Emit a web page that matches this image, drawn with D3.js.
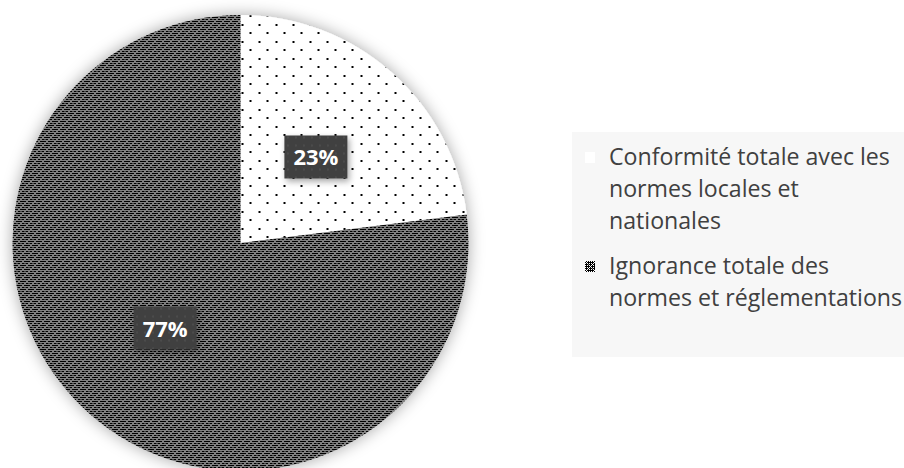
<!DOCTYPE html>
<html><head><meta charset="utf-8">
<script src="https://cdn.jsdelivr.net/npm/d3@7"></script>
<style>html,body{margin:0;padding:0;background:#fff;overflow:hidden}</style>
</head><body>
<svg id="chart" width="904" height="468"></svg>
<script>
const categories = ["Conformité totale avec les normes locales et nationales", "Ignorance totale des normes et réglementations"];
const values = [23, 77];
const valueLabels = ["23%", "77%"];
const legendLines = [["Conformité totale avec les", "normes locales et", "nationales"], ["Ignorance totale des", "normes et réglementations"]];

const svg = d3.select("#chart");
const defs = svg.append("defs");

// dotted pattern
const pDots = defs.append("pattern").attr("id", "dots").attr("patternUnits", "userSpaceOnUse")
  .attr("width", 17).attr("height", 17);
pDots.append("rect").attr("width", 17).attr("height", 17).attr("fill", "#fff");
pDots.append("rect").attr("x", 1).attr("y", 2).attr("width", 2).attr("height", 2).attr("fill", "#000").attr("shape-rendering", "crispEdges");
pDots.append("rect").attr("x", 9).attr("y", 10).attr("width", 2).attr("height", 2).attr("fill", "#000").attr("shape-rendering", "crispEdges");

// dark weave pattern: checker + black plus crosses on a diagonal lattice
const pDark = defs.append("pattern").attr("id", "dark").attr("patternUnits", "userSpaceOnUse")
  .attr("width", 8).attr("height", 8);
pDark.append("rect").attr("width", 8).attr("height", 8).attr("fill", "#000");
const inPlus = (x, y, cx0, cy0) => {
  const dx = ((x - cx0) % 8 + 8) % 8, dy = ((y - cy0) % 8 + 8) % 8;
  const ddx = dx > 4 ? dx - 8 : dx, ddy = dy > 4 ? dy - 8 : dy;
  return (ddx === 0 && Math.abs(ddy) <= 2) || (ddy === 0 && Math.abs(ddx) <= 2);
};
for (let y = 0; y < 8; y++) for (let x = 0; x < 8; x++) {
  if ((x + y) % 2 !== 0) continue;
  if (inPlus(x, y, 2, 2) || inPlus(x, y, 6, 6)) continue;
  const c = ((x === 4 && y === 0) || (x === 0 && y === 4)) ? "#8a8a8a" : "#fff";
  pDark.append("rect").attr("x", x).attr("y", y).attr("width", 1).attr("height", 1)
    .attr("fill", c).attr("shape-rendering", "crispEdges");
}

// label box pattern
const pLab = defs.append("pattern").attr("id", "labp").attr("patternUnits", "userSpaceOnUse")
  .attr("width", 8).attr("height", 8);
pLab.append("rect").attr("width", 8).attr("height", 8).attr("fill", "#404040");
pLab.append("rect").attr("x", 3).attr("y", 3).attr("width", 2).attr("height", 2).attr("fill", "#4c4c4c");

const sh = defs.append("filter").attr("id", "shadow").attr("x", "-20%").attr("y", "-20%").attr("width", "140%").attr("height", "140%");
sh.append("feDropShadow").attr("dx", 0).attr("dy", 0).attr("stdDeviation", 8).attr("flood-color", "#000").attr("flood-opacity", 0.35);
const sh2 = defs.append("filter").attr("id", "shadow2").attr("x", "-30%").attr("y", "-30%").attr("width", "160%").attr("height", "160%");
sh2.append("feDropShadow").attr("dx", 2).attr("dy", 3).attr("stdDeviation", 3).attr("flood-color", "#000").attr("flood-opacity", 0.35);

const cx = 240.5, cy = 243, r = 228;
const fills = ["url(#dots)", "url(#dark)"];

const pie = d3.pie().sort(null).value(d => d)(values);
const arc = d3.arc().innerRadius(0).outerRadius(r);
const labelArc = d3.arc().innerRadius(114).outerRadius(114);

const g = svg.append("g").attr("transform", `translate(${cx},${cy})`);
g.append("g").attr("filter", "url(#shadow)")
  .selectAll("path").data(pie).join("path")
  .attr("d", arc).attr("fill", (d, i) => fills[i]);

const lab = g.selectAll("g.lab").data(pie).join("g").attr("class", "lab")
  .attr("transform", d => { const c = labelArc.centroid(d); return `translate(${c[0]},${c[1]})`; });
lab.append("rect").attr("x", -31.5).attr("y", -22).attr("width", 63).attr("height", 43)
  .attr("fill", "url(#labp)").attr("filter", "url(#shadow2)");
lab.append("text").text((d, i) => valueLabels[i])
  .attr("text-anchor", "middle").attr("y", 8)
  .attr("font-family", "'Open Sans', sans-serif").attr("font-weight", "bold")
  .attr("font-size", 22).attr("fill", "#fff");

// legend
svg.append("rect").attr("x", 572).attr("y", 132).attr("width", 332).attr("height", 225).attr("fill", "#f7f7f7");
const legY = [165, 274];
const leg = svg.selectAll("g.leg").data(categories).join("g").attr("class", "leg");
leg.append("rect").attr("x", 585).attr("y", (d, i) => legY[i] - 13).attr("width", 10).attr("height", 11)
  .attr("fill", (d, i) => fills[i]);
const txt = leg.append("text").attr("x", 609).attr("y", (d, i) => legY[i])
  .attr("font-family", "'Open Sans', sans-serif").attr("font-size", 20).attr("fill", "#404040");
txt.selectAll("tspan").data((d, i) => legendLines[i]).join("tspan")
  .attr("x", 609).attr("dy", (d, j) => j === 0 ? 0 : 32).text(d => d);
// fit width of first line to ~281px
const w = txt.select("tspan").node().getComputedTextLength();
txt.attr("font-size", 20 * 281 / w);
</script>
</body></html>
